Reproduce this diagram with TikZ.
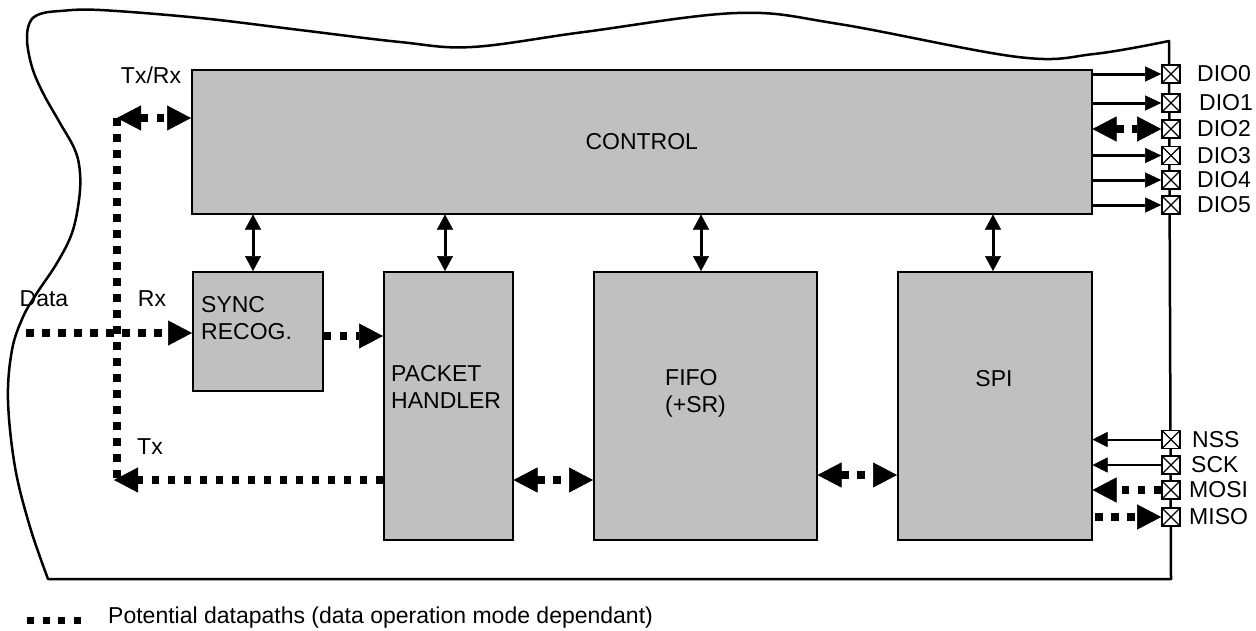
\documentclass[tikz,border=0pt]{standalone}
\usepackage{fontspec}
\setmainfont{Liberation Sans}
\usetikzlibrary{arrows.meta,calc}
\definecolor{boxgray}{RGB}{192,192,192}
\begin{document}
\begin{tikzpicture}[x=1pt,y=-1pt,
  blk/.style={draw, line width=1.5pt, fill=boxgray, inner sep=0pt, anchor=north west},
  txt/.style={font=\fontsize{23}{27}\selectfont, inner sep=0pt},
  pinbox/.style={draw, fill=white, line width=1.6pt, minimum size=18pt, inner sep=0pt,
    path picture={\draw[line width=1.1pt] (path picture bounding box.north west) -- (path picture bounding box.south east)
      (path picture bounding box.north east) -- (path picture bounding box.south west);}},
  sarr/.style={line width=3pt, -{Triangle[length=16pt,width=15pt,line width=0.5pt]}},
  sboth/.style={line width=3pt, {Triangle[length=15pt,width=16pt,line width=0.5pt]}-{Triangle[length=15pt,width=16pt,line width=0.5pt]}},
  tarr/.style={line width=2pt, -{Triangle[length=15pt,width=15pt,line width=0.5pt]}},
  dpath/.style={line width=7.5pt, dash pattern=on 7.5pt off 8.5pt},
  darr/.style={dpath, -{Triangle[length=24pt,width=25pt,line width=0.5pt]}},
  dboth/.style={dpath, {Triangle[length=24pt,width=25pt,line width=0.5pt]}-{Triangle[length=24pt,width=25pt,line width=0.5pt]}},
  border/.style={line width=2.5pt, line join=round}
]
\useasboundingbox (0,0) rectangle (1256,630);

% outline of the chip
\draw[border] plot[smooth, tension=0.6] coordinates {(48,579) (30,527) (15,467) (8,400) (12,350) (23,317) (37,293) (57,263) (72,233) (79,200) (80,173) (75,150) (60,123) (43,93) (32,67) (27,40) (30,22) (40,14) (60,11) (100,10) (200,18) (300,30) (400,42) (472,47) (584,32) (737,13) (839,24) (1018,57) (1094,54) (1169,41)} -- (1171,579) -- cycle;

% blocks
\node[blk, minimum width=900pt, minimum height=144pt] (ctrl) at (191,69) {};
\node[blk, minimum width=130pt, minimum height=119pt] (sync) at (192,271) {};
\node[blk, minimum width=129pt, minimum height=268pt] (pkt) at (383,271) {};
\node[blk, minimum width=223pt, minimum height=268pt] (fifo) at (593,271) {};
\node[blk, minimum width=194pt, minimum height=268pt] (spi) at (897,271) {};

\node[txt] (ctrltxt) at (ctrl.center) {CONTROL};
\node[txt, align=left, anchor=west] (synctxt) at (201,318) {SYNC\\RECOG.};
\node[txt, align=left, anchor=west] (pkttxt) at (391,387) {PACKET\\HANDLER};
\node[txt, align=left, anchor=west] (fifotxt) at (665,393) {FIFO\\(+SR)};
\node[txt] (spitxt) at (994,379) {SPI};

% pins
\foreach \n/\y/\t/\lx in {dio0/74/DIO0/1197, dio1/103/DIO1/1199, dio2/129/DIO2/1197, dio3/155.5/DIO3/1197, dio4/180/DIO4/1197, dio5/205/DIO5/1197, nss/439.5/NSS/1192, sck/465/SCK/1191, mosi/490/MOSI/1189, miso/517/MISO/1189} {
  \node[pinbox] (\n) at (1171,\y) {};
  \node[txt, anchor=west] (\n lab) at (\lx,\y) {\t};
}

% control <-> pins
\draw[sarr] (ctrl.east |- dio0) -- (dio0.west);
\draw[sarr] (ctrl.east |- dio1) -- (dio1.west);
\draw[dboth] (ctrl.east |- dio2) -- (dio2.west);
\draw[sarr] (ctrl.east |- dio3) -- (dio3.west);
\draw[sarr] (ctrl.east |- dio4) -- (dio4.west);
\draw[sarr] (ctrl.east |- dio5) -- (dio5.west);

% SPI pins
\draw[tarr] (nss.west) -- (spi.east |- nss);
\draw[tarr] (sck.west) -- (spi.east |- sck);
\draw[darr] (mosi.west) -- (spi.east |- mosi);
\coordinate (misos) at (1095,517);
\draw[darr] (misos) -- (miso.west);

% control <-> blocks
\coordinate (v1) at (253,0);
\coordinate (v2) at (445,0);
\coordinate (v3) at (701,0);
\coordinate (v4) at (993,0);
\draw[sboth] (v1 |- ctrl.south) -- (v1 |- sync.north);
\draw[sboth] (v2 |- ctrl.south) -- (v2 |- pkt.north);
\draw[sboth] (v3 |- ctrl.south) -- (v3 |- fifo.north);
\draw[sboth] (v4 |- ctrl.south) -- (v4 |- spi.north);

% data paths
\coordinate (trc) at (117,118);
\coordinate (vbot) at (117,480);
\coordinate (txc) at (114,480);
\coordinate (dstart) at (26,333);
\coordinate (sp) at (322,336);
\coordinate (fs) at (816,475);
\draw[dpath] (trc) -- (vbot);
\draw[dboth] (trc) -- (ctrl.west |- trc);
\draw[darr] (dstart) -- (sync.west |- dstart);
\draw[darr] (sync.east |- sp) -- (pkt.west |- sp);
\draw[darr] (pkt.west |- txc) -- (txc);
\draw[dboth] (pkt.east |- txc) -- (fifo.west |- txc);
\draw[dboth] (fifo.east |- fs) -- (spi.west |- fs);

% labels
\node[txt] (lbltxrx) at (151,75) {Tx/Rx};
\node[txt] (lbldata) at (44,299) {Data};
\node[txt] (lblrx) at (152,299) {Rx};
\node[txt] (lbltx) at (150,447) {Tx};

% legend
\coordinate (lg1) at (27,620);
\coordinate (lg2) at (81,620);
\draw[line width=7pt, dash pattern=on 7pt off 8.7pt] (lg1) -- (lg2);
\node[txt, anchor=base west] (legtxt) at (108,623) {Potential datapaths (data operation mode dependant)};
\end{tikzpicture}
\end{document}
